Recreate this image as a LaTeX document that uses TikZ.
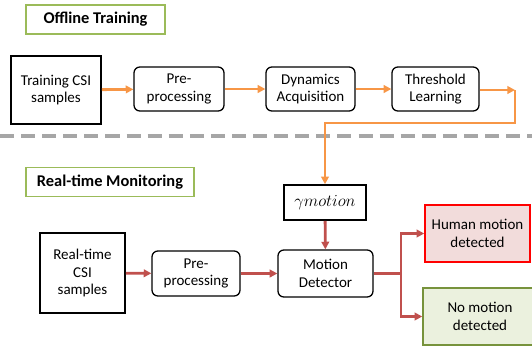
\documentclass[tikz,border=0pt]{standalone}
\usepackage{amsmath}
\usepackage{fontspec}
\setmainfont{Carlito}
\usepackage{tikz}
\usetikzlibrary{positioning,arrows.meta}
\usepackage{xcolor}

\definecolor{trainOrange}{HTML}{F79646}
\definecolor{monRed}{HTML}{C0504D}
\definecolor{titleGreen}{HTML}{9BBB59}
\definecolor{noGreen}{HTML}{77933C}
\definecolor{noFill}{HTML}{EBF1DE}
\definecolor{humanFill}{HTML}{F2DCDB}
\definecolor{splitGray}{HTML}{A6A6A6}

\begin{document}
\begin{tikzpicture}[x=0.03cm,y=-0.03cm,>={Triangle[length=6.5pt,width=6.5pt]},
    every node/.style={font=\fontsize{12.8}{15}\selectfont, align=center, inner sep=0pt},
    title/.style={draw=titleGreen, line width=1.3pt, font=\fontsize{14}{16}\selectfont\bfseries},
    source/.style={draw, line width=1.3pt},
    stage/.style={draw, line width=1.1pt, rounded corners=5pt},
    oflow/.style={->, draw=trainOrange, line width=2.4pt},
    rflow/.style={->, draw=monRed, line width=2.4pt}]
  \useasboundingbox (0,0) rectangle (532,352);

  % offline part
  \node[title, minimum width=139*0.03cm, minimum height=29*0.03cm] (offline) at (95.5,19.5) {Offline Training};
  \node[source, minimum width=90*0.03cm, minimum height=68*0.03cm] (train) at (56,90) {Training CSI\\samples};
  \node[stage, minimum width=90*0.03cm, minimum height=44*0.03cm] (pre1) at (179,89) {Pre-\\processing};
  \node[stage, minimum width=89*0.03cm, minimum height=44*0.03cm] (dyn) at (310.5,89) {Dynamics\\Acquisition};
  \node[stage, minimum width=87*0.03cm, minimum height=44*0.03cm] (thr) at (435.5,89) {Threshold\\Learning};

  \draw[dash pattern=on 12pt off 6pt, line width=3pt, splitGray] (0,136) -- (532,136);

  % online part
  \node[title, minimum width=168*0.03cm, minimum height=29*0.03cm] (online) at (110,182) {Real-time Monitoring};
  \node[draw, line width=1.3pt, minimum width=82*0.03cm, minimum height=35*0.03cm, font=\fontsize{13.5}{15}\selectfont] (gamma) at (325,202.5) {$\gamma motion$};
  \node[source, minimum width=85*0.03cm, minimum height=80*0.03cm] (rt) at (82.5,273) {Real-time\\CSI\\samples};
  \node[stage, minimum width=88*0.03cm, minimum height=45*0.03cm] (pre2) at (196,273.5) {Pre-\\processing};
  \node[stage, minimum width=95*0.03cm, minimum height=47*0.03cm] (md) at (325.5,273.5) {Motion\\Detector};
  \node[draw=red, fill=humanFill, line width=1.3pt, minimum width=105*0.03cm, minimum height=57*0.03cm] (human) at (477.5,233.5) {Human motion\\detected};
  \node[draw=noGreen, fill=noFill, line width=1.3pt, minimum width=114*0.03cm, minimum height=57*0.03cm] (nomo) at (480,316.5) {No motion\\detected};

  \coordinate (tcorner) at (515,90);
  \coordinate (tdrop) at (325,123);
  \coordinate (split) at (401,273.5);

  \draw[oflow] (train) -- (pre1);
  \draw[oflow] (pre1) -- (dyn);
  \draw[oflow] (dyn) -- (thr);
  \draw[oflow] (thr.east |- tcorner) -- (tcorner);
  \draw[oflow] (tcorner) |- (tdrop) -- (gamma.north);

  \draw[rflow] (gamma) -- (md);
  \draw[rflow] (rt) -- (pre2);
  \draw[rflow] (pre2) -- (md);
  \draw[rflow] (md.east) -- (split) |- (human.west);
  \draw[rflow] (split) |- (nomo.west);
\end{tikzpicture}
\end{document}
